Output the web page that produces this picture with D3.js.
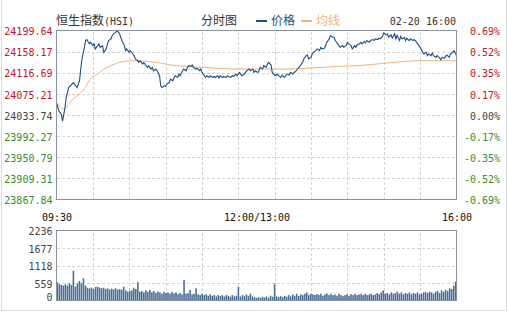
<!DOCTYPE html>
<html>
<head>
<meta charset="utf-8">
<script src="https://cdn.jsdelivr.net/npm/d3@7"></script>
<style>
    body { margin: 0; background: #fff; }
    svg { display: block; }
    .mono { font-family: "DejaVu Sans Mono", monospace; font-size: 10px; }
    .cjk { font-family: "Noto Sans CJK SC", sans-serif; font-size: 12px; }
</style>
</head>
<body>
<svg id="chart"></svg>
<script>
var prevClose = 24033.74;

var priceTicks = ['24199.64', '24158.17', '24116.69', '24075.21', '24033.74',
    '23992.27', '23950.79', '23909.31', '23867.84'];
var pctLabels = ['0.69%', '0.52%', '0.35%', '0.17%', '0.00%',
    '-0.17%', '-0.35%', '-0.52%', '-0.69%'];

var timeTicks = [0, 165, 330];
var timeLabels = ['09:30', '12:00/13:00', '16:00'];

var volTicks = [0, 559, 1118, 1677, 2236];

// minutes from 09:30 (lunch removed) and index value
var priceMin = [0, 2, 4, 5, 7, 8, 10, 12, 14, 16, 17, 19, 20, 21, 23, 24, 25, 27, 28, 30,
    31, 32, 34, 35, 36, 38, 39, 41, 42, 43, 45, 46, 47, 49, 50, 52, 53, 54, 56, 57,
    58, 60, 61, 63, 64, 65, 67, 68, 69, 71, 72, 74, 75, 76, 78, 79, 80, 82, 83, 85,
    86, 87, 89, 90, 91, 93, 94, 96, 97, 98, 100, 101, 102, 104, 105, 107, 108, 109, 111, 112,
    113, 115, 116, 118, 119, 120, 122, 123, 124, 126, 127, 129, 130, 131, 133, 134, 135, 137, 138, 140,
    141, 142, 144, 145, 146, 148, 149, 151, 152, 153, 155, 156, 157, 159, 160, 162, 163, 164, 166, 167,
    168, 170, 171, 173, 174, 175, 177, 178, 179, 181, 182, 184, 185, 186, 188, 189, 190, 192, 193, 195,
    196, 197, 199, 200, 201, 203, 204, 206, 207, 208, 210, 211, 212, 214, 215, 217, 218, 219, 221, 222,
    223, 225, 226, 228, 229, 230, 232, 233, 234, 236, 237, 239, 240, 241, 243, 244, 246, 247, 248, 250,
    251, 252, 254, 255, 256, 258, 259, 261, 262, 263, 265, 266, 267, 269, 270, 272, 273, 274, 276, 277,
    279, 280, 281, 283, 284, 285, 287, 288, 289, 291, 292, 294, 295, 296, 298, 299, 300, 302, 303, 305,
    306, 307, 309, 310, 311, 313, 314, 316, 317, 318, 320, 321, 322, 324, 325, 327, 328, 330];
var priceVal = [24058.0, 24041.6, 24035.1, 24021.9, 24048.1, 24067.9, 24087.6, 24092.4, 24097.5, 24091.0,
    24087.6, 24100.9, 24124.0, 24143.7, 24166.6, 24179.9, 24181.9, 24173.4, 24176.5, 24170.0,
    24173.4, 24163.5, 24170.0, 24173.4, 24166.6, 24170.0, 24156.8, 24163.5, 24173.4, 24179.9,
    24183.2, 24189.8, 24193.1, 24196.3, 24199.6, 24193.1, 24186.4, 24179.9, 24170.0, 24160.1,
    24163.5, 24156.8, 24160.1, 24153.6, 24150.3, 24143.7, 24140.4, 24137.0, 24140.4, 24133.8,
    24137.0, 24130.5, 24127.2, 24130.5, 24124.0, 24127.2, 24120.6, 24124.0, 24120.6, 24110.8,
    24091.0, 24087.6, 24091.0, 24089.6, 24094.4, 24097.5, 24104.2, 24100.9, 24107.4, 24110.8,
    24107.4, 24114.1, 24110.8, 24120.6, 24124.0, 24120.6, 24127.2, 24130.5, 24129.2, 24131.9,
    24127.2, 24124.0, 24125.2, 24120.6, 24124.0, 24117.3, 24110.8, 24107.4, 24110.8, 24107.4,
    24110.8, 24107.4, 24109.4, 24107.4, 24110.8, 24106.1, 24110.8, 24107.4, 24109.4, 24107.4,
    24110.8, 24108.8, 24107.4, 24110.8, 24109.4, 24114.1, 24110.8, 24117.3, 24114.1, 24110.8,
    24114.1, 24117.3, 24120.6, 24124.0, 24120.6, 24124.0, 24117.3, 24120.6, 24117.3, 24120.6,
    24127.2, 24124.0, 24130.5, 24127.2, 24133.8, 24137.0, 24131.9, 24117.3, 24114.1, 24110.8,
    24114.1, 24109.4, 24107.4, 24112.1, 24107.4, 24110.8, 24114.1, 24112.1, 24117.3, 24114.1,
    24117.3, 24118.6, 24124.0, 24127.2, 24130.5, 24137.0, 24143.7, 24150.3, 24151.6, 24143.7,
    24146.9, 24153.6, 24156.8, 24160.1, 24163.5, 24160.1, 24166.6, 24163.5, 24164.7, 24170.0,
    24176.5, 24183.2, 24189.8, 24186.4, 24186.4, 24179.9, 24173.4, 24170.0, 24166.6, 24170.0,
    24166.6, 24170.0, 24176.5, 24173.4, 24170.0, 24163.5, 24170.0, 24166.6, 24171.4, 24173.4,
    24176.5, 24173.4, 24177.9, 24175.3, 24179.9, 24176.5, 24179.9, 24181.9, 24179.9, 24183.2,
    24181.9, 24184.4, 24183.2, 24188.4, 24195.1, 24191.1, 24193.1, 24186.4, 24191.1, 24184.4,
    24193.1, 24183.2, 24189.8, 24179.9, 24188.4, 24183.2, 24186.4, 24179.9, 24184.4, 24179.9,
    24183.2, 24179.9, 24181.9, 24179.9, 24173.4, 24170.0, 24166.6, 24156.8, 24153.6, 24156.8,
    24150.3, 24153.6, 24150.3, 24155.5, 24150.3, 24146.9, 24150.3, 24145.7, 24142.4, 24146.9,
    24144.9, 24148.9, 24151.6, 24146.9, 24153.6, 24156.8, 24160.1, 24150.3];

var avgMin = [0, 6, 12, 17, 23, 28, 34, 39, 45, 50, 56, 64, 75, 83, 94, 108, 122, 149, 190, 232,
    248, 273, 300, 330];
var avgVal = [24058.0, 24045.6, 24061.4, 24071.3, 24085.1, 24104.8, 24114.1, 24124.0, 24130.5, 24135.8,
    24139.0, 24140.4, 24139.0, 24137.0, 24131.9, 24129.1, 24127.2, 24124.0, 24124.0, 24129.1,
    24130.5, 24135.8, 24140.4, 24140.4];

var volVal = [583, 518, 497, 475, 518, 475, 551, 497, 950, 443, 551, 626, 551, 713, 475, 410, 389, 410, 367, 432,
    443, 410, 389, 410, 367, 389, 346, 378, 356, 389, 346, 367, 346, 443, 324, 281, 302, 324, 410, 367,
    583, 281, 302, 259, 324, 281, 335, 259, 302, 238, 281, 259, 216, 281, 238, 259, 216, 281, 227, 259,
    205, 238, 194, 659, 216, 238, 335, 194, 216, 389, 194, 173, 216, 173, 194, 151, 194, 151, 173, 130,
    173, 140, 173, 130, 173, 151, 119, 173, 130, 151, 443, 130, 173, 140, 194, 151, 216, 130, 108,
    86, 108, 86, 119, 97, 130, 86, 151, 119, 518, 130, 108, 140, 108, 151, 119, 173, 130, 194, 151,
    216, 140, 194, 173, 216, 259, 173, 216, 194, 173, 205, 173, 216, 151, 194, 227, 173, 216, 173, 194,
    151, 216, 173, 140, 173, 194, 151, 205, 173, 216, 173, 194, 216, 173, 216, 173, 194, 216, 173, 194,
    238, 194, 259, 324, 216, 238, 194, 259, 216, 238, 281, 216, 259, 194, 238, 216, 259, 194, 238, 216,
    259, 194, 216, 259, 281, 238, 281, 259, 216, 281, 302, 238, 324, 281, 346, 302, 389, 367, 475, 605];

var left = 56.5, right = 456.5;
var red = '#c8102e', green = '#2f8f2f', gray = '#444';

var svg = d3.select('svg#chart')
    .attr('width', 508)
    .attr('height', 313) ;

// outer frame
svg.append('path')
    .attr('d', 'M1.5,0V310.5H506.5V0')
    .attr('fill', 'none')
    .attr('stroke', '#d6dde6') ;

var x = d3.scaleLinear().domain([0, 330]).range([left, right]);
var y = d3.scaleLinear().domain([+priceTicks[8], +priceTicks[0]]).range([199.5, 30.5]);
var yVol = d3.scaleLinear().domain([0, 2236]).range([300.5, 230.5]);
var xBar = d3.scaleBand().domain(d3.range(volVal.length)).range([left, right]).paddingInner(0.2);

var gridTimes = d3.range(30, 330, 30);

var styleGrid = function (g) {
    g.select('.domain').remove();
    g.selectAll('line')
        .attr('stroke', '#d4d4d4')
        .attr('stroke-dasharray', '3,2')
        .attr('shape-rendering', 'crispEdges');
    g.selectAll('text').remove();
};

// price grid
svg.append('g')
    .attr('transform', 'translate(' + left + ',0)')
    .call(d3.axisLeft(y).tickValues(priceTicks.slice(1, 8).map(Number)).tickSize(-(right - left)))
    .call(styleGrid) ;
svg.append('g')
    .attr('transform', 'translate(0,199.5)')
    .call(d3.axisBottom(x).tickValues(gridTimes).tickSize(-169))
    .call(styleGrid) ;

// volume grid
svg.append('g')
    .attr('transform', 'translate(' + left + ',0)')
    .call(d3.axisLeft(yVol).tickValues(volTicks.slice(1, 4)).tickSize(-(right - left)))
    .call(styleGrid) ;
svg.append('g')
    .attr('transform', 'translate(0,300.5)')
    .call(d3.axisBottom(x).tickValues(gridTimes).tickSize(-70))
    .call(styleGrid) ;

// volume bars
svg.append('g').selectAll('rect')
    .data(volVal)
    .enter().append('rect')
    .attr('x', function (d, i) { return xBar(i); })
    .attr('y', function (d) { return yVol(d); })
    .attr('width', xBar.bandwidth())
    .attr('height', function (d) { return yVol(0) - yVol(d); })
    .attr('fill', '#4d7199') ;

// lines
var avgData = avgMin.map(function (m, i) { return [m, avgVal[i]]; });
var priceData = priceMin.map(function (m, i) { return [m, priceVal[i]]; });

svg.append('path')
    .datum(avgData)
    .attr('fill', 'none')
    .attr('stroke', '#f0b37c')
    .attr('stroke-width', 1)
    .attr('d', d3.line()
        .curve(d3.curveMonotoneX)
        .x(function (d) { return x(d[0]); })
        .y(function (d) { return y(d[1]); })) ;

svg.append('path')
    .datum(priceData)
    .attr('fill', 'none')
    .attr('stroke', '#1d4f86')
    .attr('stroke-width', 1.1)
    .attr('d', d3.line()
        .x(function (d) { return x(d[0]); })
        .y(function (d) { return y(d[1]); })) ;

// frames
[[30.5, 199.5], [230.5, 300.5]].forEach(function (r) {
    svg.append('rect')
        .attr('x', left)
        .attr('y', r[0])
        .attr('width', right - left)
        .attr('height', r[1] - r[0])
        .attr('fill', 'none')
        .attr('stroke', '#8a939d')
        .attr('shape-rendering', 'crispEdges') ;
});

var tickColor = function (d) {
    if (Math.abs(d - prevClose) < 0.01) return gray;
    return d > prevClose ? red : green;
};

var styleLabels = function (g) {
    g.select('.domain').remove();
    g.attr('font-family', null).attr('font-size', null);
    g.selectAll('text').attr('class', 'mono');
};

// price labels
svg.append('g')
    .attr('transform', 'translate(' + left + ',1)')
    .call(d3.axisLeft(y).tickValues(priceTicks.map(Number)).tickSize(0).tickPadding(4)
        .tickFormat(d3.format('.2f')))
    .call(styleLabels)
    .selectAll('text')
    .attr('fill', tickColor) ;

svg.append('g')
    .attr('transform', 'translate(' + right + ',1)')
    .call(d3.axisRight(y).tickValues(priceTicks.map(Number)).tickSize(0)
        .tickFormat(function (d, i) { return pctLabels[i]; }))
    .call(styleLabels)
    .selectAll('text')
    .attr('x', 500 - right)
    .attr('text-anchor', 'end')
    .attr('fill', tickColor) ;

// time labels
svg.append('g')
    .attr('transform', 'translate(0,199.5)')
    .call(d3.axisBottom(x).tickValues(timeTicks).tickSize(0).tickPadding(14)
        .tickFormat(function (d, i) { return timeLabels[i]; }))
    .call(styleLabels)
    .selectAll('text')
    .attr('fill', '#111') ;

// volume labels
svg.append('g')
    .attr('transform', 'translate(' + left + ',1)')
    .call(d3.axisLeft(yVol).tickValues(volTicks).tickSize(0).tickPadding(4)
        .tickFormat(d3.format('d')))
    .call(styleLabels)
    .selectAll('text')
    .attr('fill', gray)
    .attr('dy', function (d) { return d === 0 ? '-0.1em' : '0.32em'; }) ;

// header
var title = svg.append('text')
    .attr('x', 56)
    .attr('y', 25)
    .attr('fill', '#333') ;
title.append('tspan').attr('class', 'cjk').text('恒生指数');
title.append('tspan').attr('class', 'mono').text('(HSI)');

svg.append('text')
    .attr('class', 'cjk')
    .attr('x', 201)
    .attr('y', 25)
    .attr('fill', '#333')
    .text('分时图') ;

var legend = [
    { name: '价格', color: '#1d4f86', x: 256 },
    { name: '均线', color: '#f0b37c', x: 301 }
];
var lg = svg.selectAll('g.legend')
    .data(legend)
    .enter().append('g')
    .classed('legend', true)
    .attr('transform', function (d) { return 'translate(' + d.x + ',21)'; }) ;
lg.append('line')
    .attr('x1', 0)
    .attr('x2', 11)
    .attr('stroke', function (d) { return d.color; })
    .attr('stroke-width', 2) ;
lg.append('text')
    .attr('class', 'cjk')
    .attr('x', 15)
    .attr('y', 4)
    .attr('fill', function (d) { return d.color; })
    .text(function (d) { return d.name; }) ;

svg.append('text')
    .attr('class', 'mono')
    .attr('x', 456)
    .attr('y', 25)
    .attr('text-anchor', 'end')
    .attr('fill', '#333')
    .text('02-20 16:00') ;
</script>
</body>
</html>
